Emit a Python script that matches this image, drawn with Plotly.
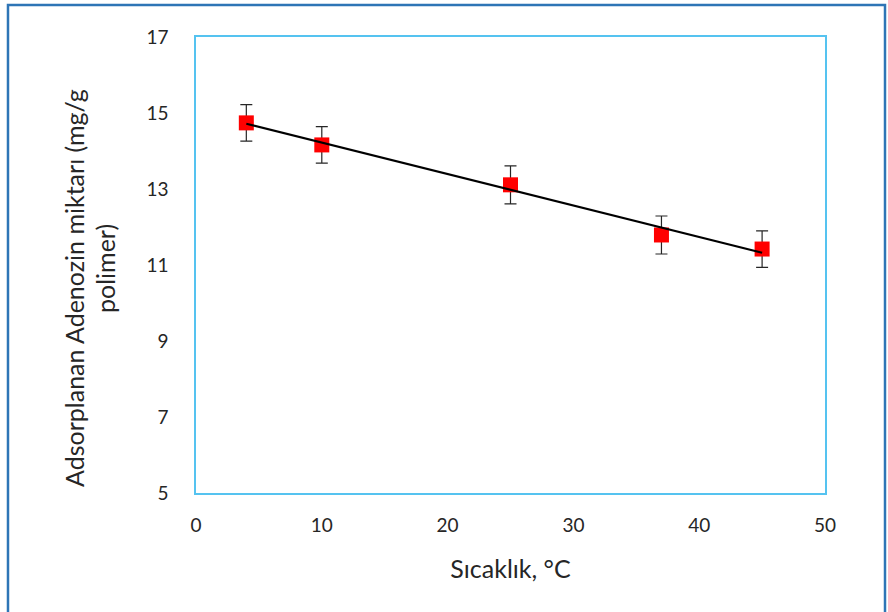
import numpy as np
import plotly.graph_objects as go

temperature = [4, 10, 25, 37, 45]
adsorbed = [14.74, 14.16, 13.11, 11.79, 11.42]
error = [0.48, 0.48, 0.5, 0.5, 0.48]

x_ticks = [0, 10, 20, 30, 40, 50]
y_ticks = [5, 7, 9, 11, 13, 15, 17]

y_title_lines = ["Adsorplanan Adenozin miktarı (mg/g", "polimer)"]
x_title = "Sıcaklık, °C"

slope, intercept = np.polyfit(temperature, adsorbed, 1)
trend_x = [min(temperature), max(temperature)]
trend_y = [slope * v + intercept for v in trend_x]

font_family = "Lato, 'Open Sans', sans-serif"
text_color = "#262626"

fig = go.Figure()
fig.add_trace(go.Scatter(
    x=temperature, y=adsorbed, mode="markers",
    marker=dict(symbol="square", size=15, color="#ff0000"),
    error_y=dict(type="data", array=error, visible=True, color=text_color,
                 thickness=1.2, width=6),
    showlegend=False,
))
fig.add_trace(go.Scatter(
    x=trend_x, y=trend_y, mode="lines",
    line=dict(color="#000000", width=2.2), showlegend=False,
))

axis_common = dict(
    showgrid=False, zeroline=False, showline=True, mirror=True,
    linecolor="#55c3f0", linewidth=1.5, ticks="",
    tickfont=dict(family=font_family, size=19, color=text_color),
)

fig.update_layout(
    width=888, height=612,
    margin=dict(l=196, r=63, t=37, b=119),
    paper_bgcolor="white", plot_bgcolor="white",
    xaxis=dict(range=[0, 50], tickvals=x_ticks, ticklabelstandoff=14,
               title=dict(text=x_title, standoff=26,
                          font=dict(family=font_family, size=25, color=text_color)),
               **axis_common),
    yaxis=dict(range=[5, 17], tickvals=y_ticks, ticklabelstandoff=22,
               **axis_common),
    shapes=[dict(type="rect", xref="paper", yref="paper",
                 x0=-0.2989, x1=1.0954, y0=-0.28, y1=1.0702,
                 line=dict(color="#2e75b6", width=2.5), fillcolor="rgba(0,0,0,0)",
                 layer="below")],
)

for text, xp, yp in zip(y_title_lines, [-0.194, -0.1447], [0.4496, 0.4934]):
    fig.add_annotation(
        text=text, xref="paper", yref="paper", x=xp, y=yp,
        xanchor="center", yanchor="middle", textangle=-90, showarrow=False,
        font=dict(family=font_family, size=25, color=text_color),
    )

fig.write_html("out.html", post_script="document.body.style.margin='0';",
               config={"displayModeBar": False})
